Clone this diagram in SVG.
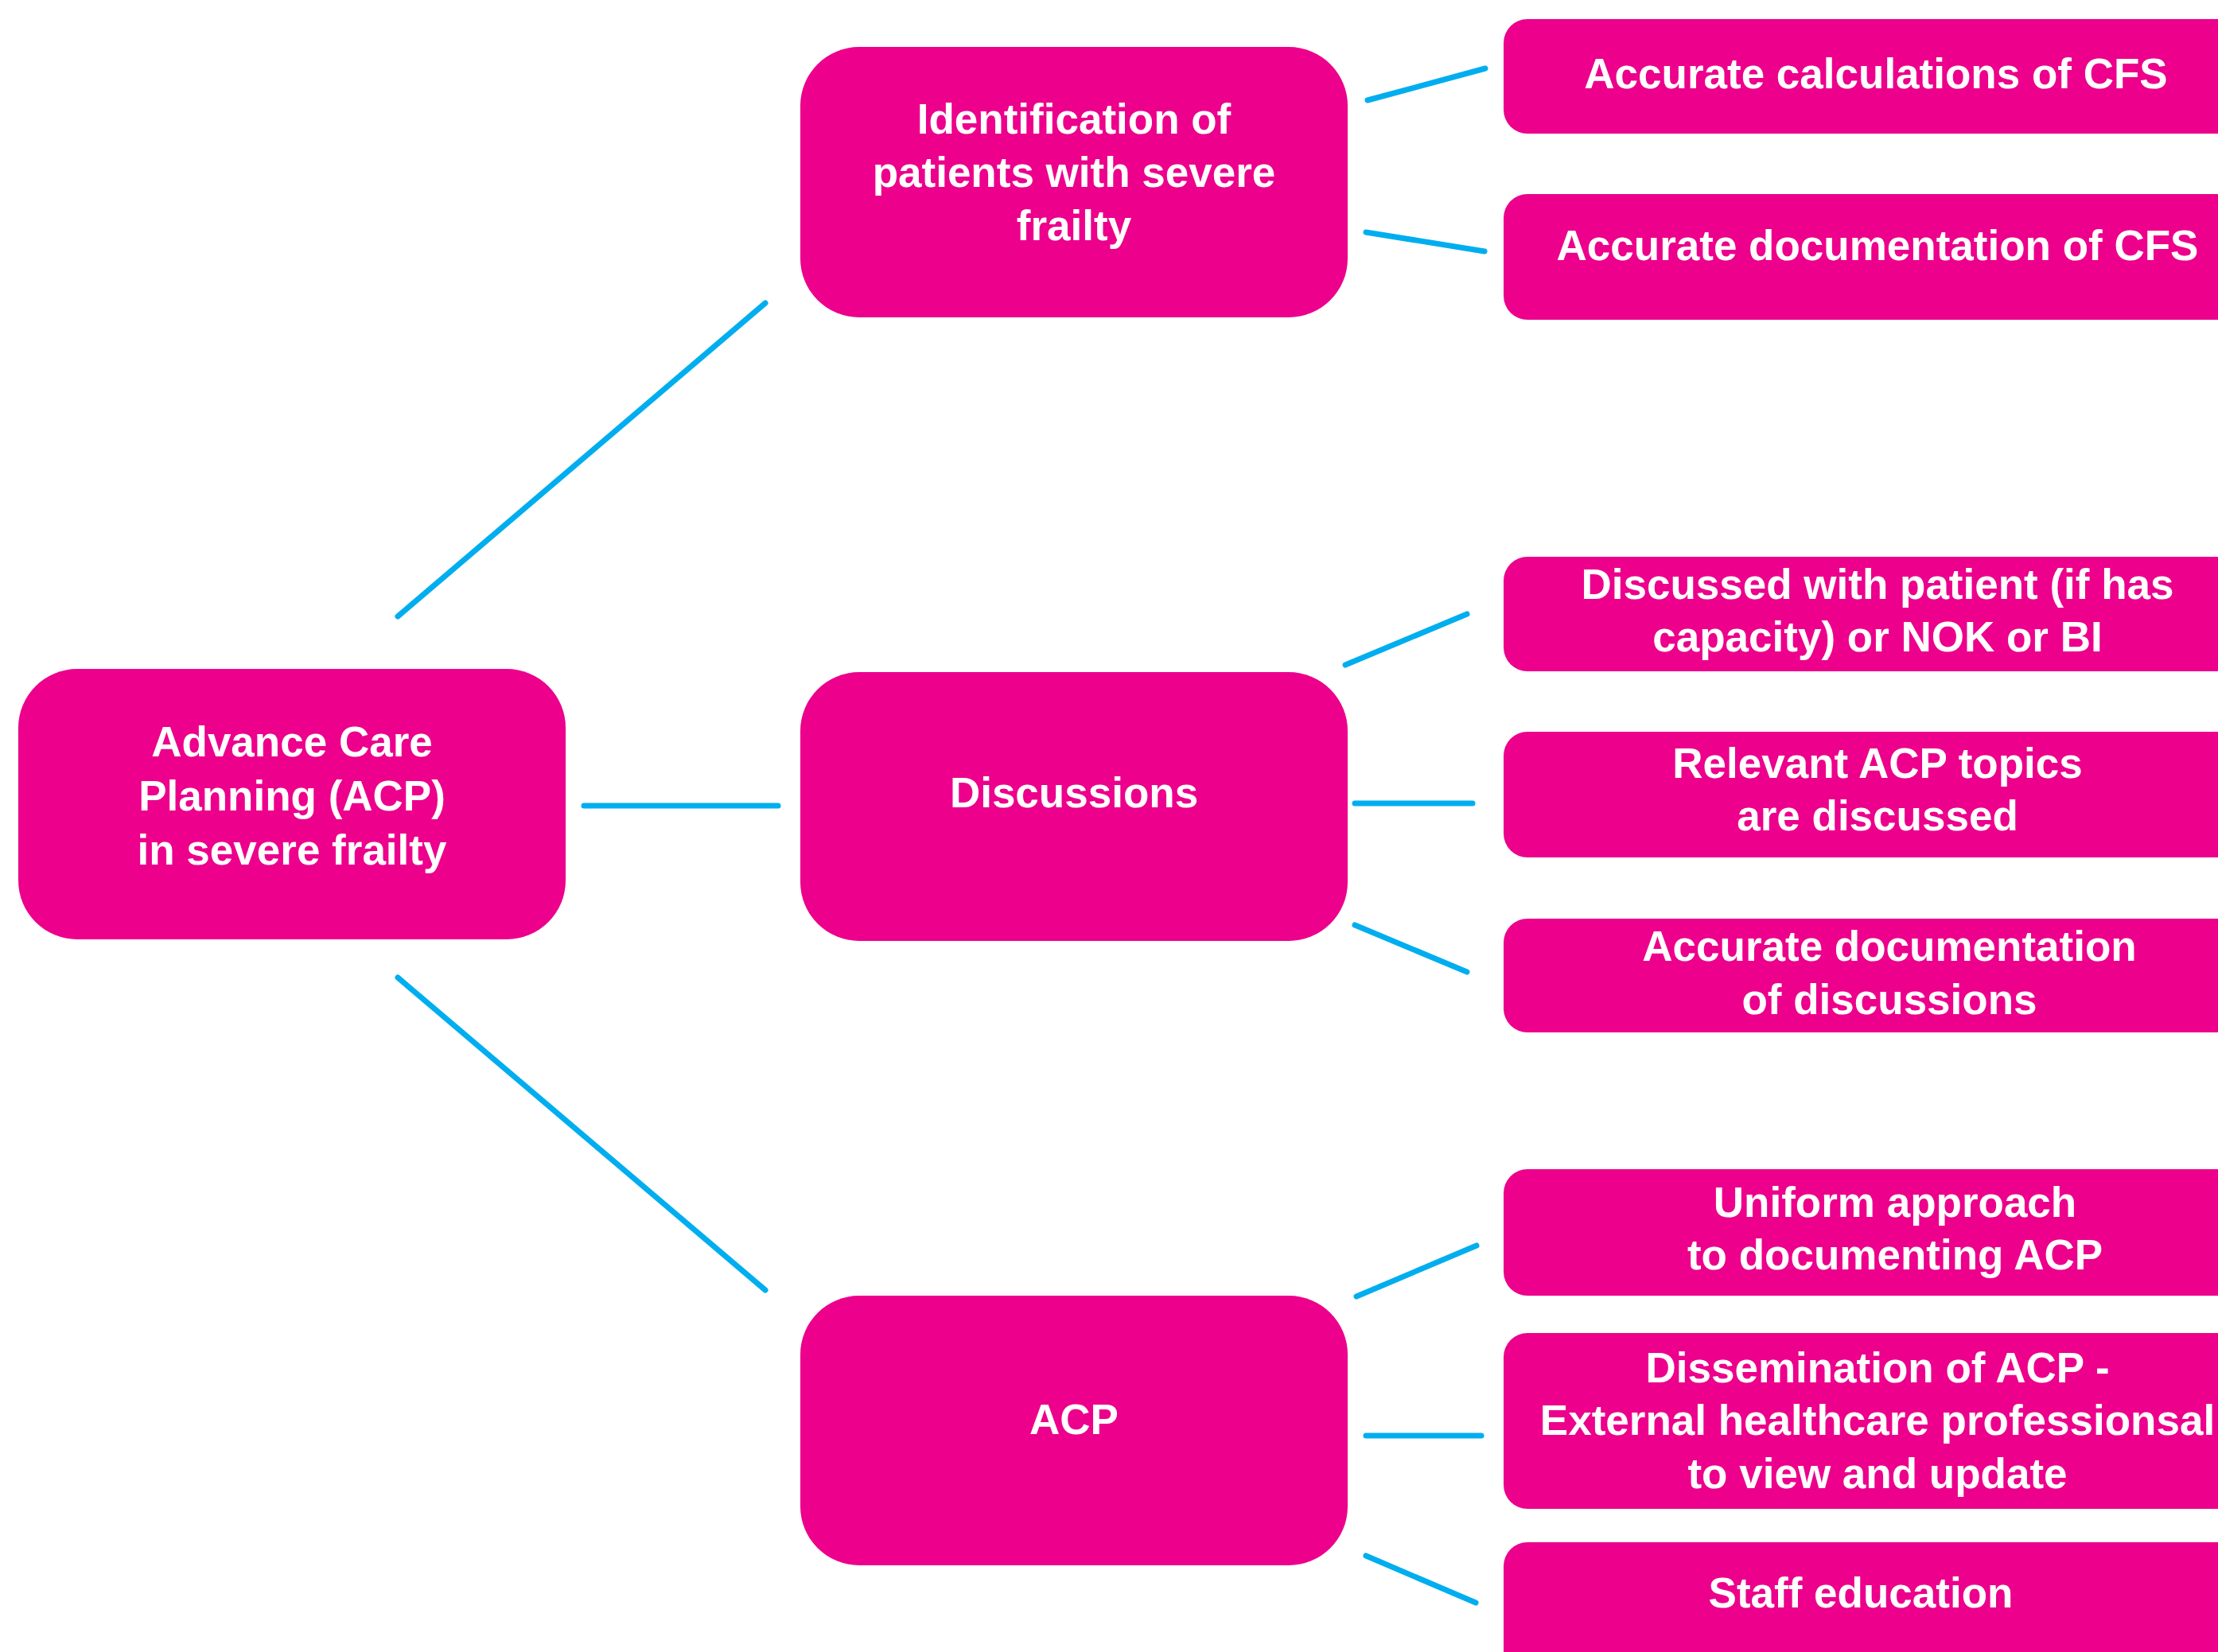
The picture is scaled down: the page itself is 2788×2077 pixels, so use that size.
<svg xmlns="http://www.w3.org/2000/svg" width="2788" height="2077" viewBox="0 0 2788 2077">
<style>
.box{fill:#EC008C}
.t{font-family:"Liberation Sans",Arial,sans-serif;font-weight:bold;font-size:53px;fill:#FFFFFF;text-anchor:middle}
.c{stroke:#00AEEF;stroke-width:7;stroke-linecap:round;fill:none}
</style>
<rect width="2788" height="2077" fill="#FFFFFF"/>
<g id="connectors">
<line class="c" x1="500" y1="775" x2="962" y2="381"/>
<line class="c" x1="734" y1="1013" x2="978" y2="1013"/>
<line class="c" x1="500" y1="1229" x2="962" y2="1622"/>
<line class="c" x1="1719" y1="126" x2="1867" y2="86"/>
<line class="c" x1="1717" y1="292" x2="1866" y2="316"/>
<line class="c" x1="1691" y1="836" x2="1844" y2="772"/>
<line class="c" x1="1703" y1="1010" x2="1851" y2="1010"/>
<line class="c" x1="1703" y1="1163" x2="1844" y2="1222"/>
<line class="c" x1="1705" y1="1630" x2="1856" y2="1566"/>
<line class="c" x1="1717" y1="1805" x2="1862" y2="1805"/>
<line class="c" x1="1717" y1="1956" x2="1855" y2="2015"/>
</g>
<g id="root">
<rect class="box" x="23" y="841" width="688" height="340" rx="74"/>
<text class="t" x="367" y="951">Advance Care</text>
<text class="t" x="367" y="1019">Planning (ACP)</text>
<text class="t" x="367" y="1087">in severe frailty</text>
</g>
<g id="identification">
<rect class="box" x="1006" y="59" width="688" height="340" rx="74"/>
<text class="t" x="1350" y="168">Identification of</text>
<text class="t" x="1350" y="235">patients with severe</text>
<text class="t" x="1350" y="302">frailty</text>
</g>
<g id="discussions">
<rect class="box" x="1006" y="845" width="688" height="338" rx="74"/>
<text class="t" x="1350" y="1015">Discussions</text>
</g>
<g id="acp">
<rect class="box" x="1006" y="1629" width="688" height="339" rx="74"/>
<text class="t" x="1350" y="1803">ACP</text>
</g>
<g id="calc-cfs">
<rect class="box" x="1890" y="24" width="960" height="144" rx="30"/>
<text class="t" x="2358" y="111">Accurate calculations of CFS</text>
</g>
<g id="doc-cfs">
<rect class="box" x="1890" y="244" width="960" height="158" rx="30"/>
<text class="t" x="2360" y="327">Accurate documentation of CFS</text>
</g>
<g id="discussed-with">
<rect class="box" x="1890" y="700" width="960" height="144" rx="30"/>
<text class="t" x="2360" y="753">Discussed with patient (if has</text>
<text class="t" x="2360" y="819">capacity) or NOK or BI</text>
</g>
<g id="relevant-topics">
<rect class="box" x="1890" y="920" width="960" height="158" rx="30"/>
<text class="t" x="2360" y="978">Relevant ACP topics</text>
<text class="t" x="2360" y="1044">are discussed</text>
</g>
<g id="doc-discussions">
<rect class="box" x="1890" y="1155" width="960" height="143" rx="30"/>
<text class="t" x="2375" y="1208">Accurate documentation</text>
<text class="t" x="2375" y="1275">of discussions</text>
</g>
<g id="uniform-approach">
<rect class="box" x="1890" y="1470" width="960" height="159" rx="30"/>
<text class="t" x="2382" y="1530">Uniform approach</text>
<text class="t" x="2382" y="1596">to documenting ACP</text>
</g>
<g id="dissemination">
<rect class="box" x="1890" y="1676" width="960" height="221" rx="30"/>
<text class="t" x="2360" y="1738">Dissemination of ACP -</text>
<text class="t" x="2360" y="1804">External healthcare professionsal</text>
<text class="t" x="2360" y="1871">to view and update</text>
</g>
<g id="staff-education">
<rect class="box" x="1890" y="1939" width="960" height="200" rx="30"/>
<text class="t" x="2339" y="2021">Staff education</text>
</g>
</svg>
